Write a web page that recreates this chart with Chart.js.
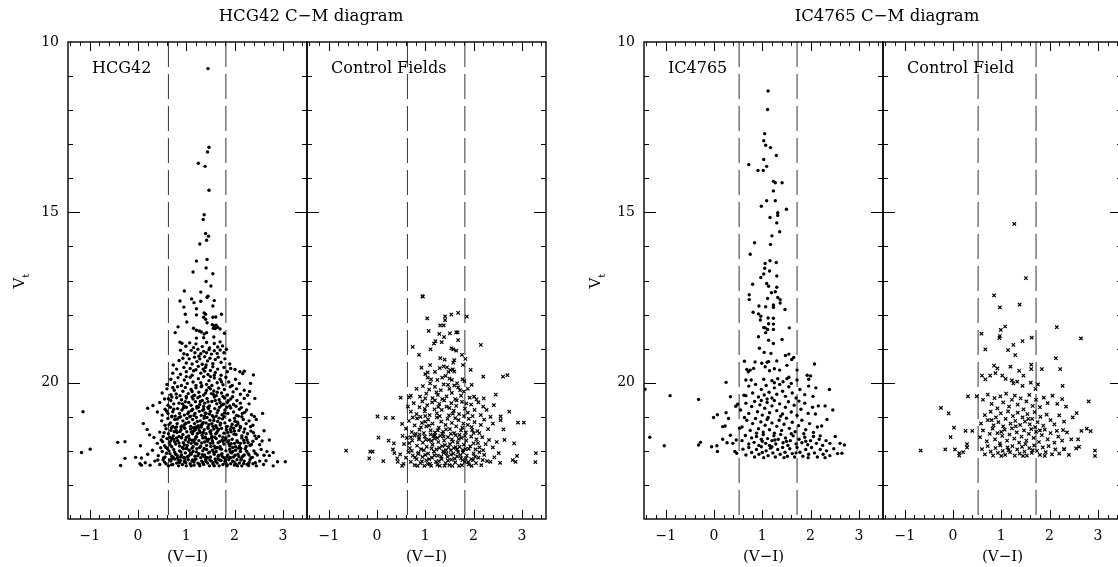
<!DOCTYPE html>
<html>
<head>
<meta charset="utf-8">
<script src="https://cdn.jsdelivr.net/npm/chart.js@4"></script>
<style>
html, body { margin: 0; padding: 0; background: #fff; overflow: hidden; }
canvas.panel { position: absolute; left: 0; top: 0; }
</style>
</head>
<body>
<canvas id="hcgChart" class="panel" width="1130" height="567"></canvas>
<canvas id="ctrl1Chart" class="panel" width="1130" height="567"></canvas>
<canvas id="icChart" class="panel" width="1130" height="567"></canvas>
<canvas id="ctrl2Chart" class="panel" width="1130" height="567"></canvas>
<script>
// tick labels and colour cuts
var xTickLabels = [-1, 0, 1, 2, 3];
var yTickLabels = [10, 15, 20];
var hcgCuts = [0.63, 1.82];
var icCuts = [0.52, 1.72];

// HCG42 galaxy points, [V-I, Vt]
var hcg42Pts = [
[1.45,10.78],[1.47,13.09],[1.44,13.23],[1.25,13.56],[1.39,13.65],[1.47,14.35],[1.37,15.07],[1.35,15.21],[1.40,15.62],[1.46,15.70],[1.42,15.82],[1.28,15.93],[1.21,16.43],[1.43,16.38],[1.41,16.63],[1.14,16.75],[1.55,16.80],[1.41,17.03],[1.51,17.16],[0.96,17.31],[1.30,17.34],[1.45,17.46],[1.43,17.49],[1.11,17.54],[0.87,17.60],[1.30,17.61],[1.58,17.59],[1.16,17.65],[1.55,17.75],[0.95,17.78],[1.21,17.83],[1.37,17.95],[1.40,17.99],[0.98,17.99],[1.21,18.01],[1.73,17.99],[1.36,18.08],[1.55,18.08],[1.61,18.07],[1.40,18.14],[1.01,18.22],[1.43,18.24],[1.54,18.30],[1.58,18.33],[1.62,18.31],[1.56,18.40],[1.60,18.41],[1.65,18.37],[0.83,18.36],[1.15,18.40],[1.70,18.42],[1.21,18.46],[1.27,18.48],[1.31,18.51],[0.77,18.53],[1.42,18.53],[1.79,18.55],[1.37,18.57],[1.21,18.69],[1.36,18.68],[1.57,18.66],[0.87,18.81],[0.91,18.84],[0.99,18.93],[1.07,18.83],[1.15,18.97],[1.20,18.86],[1.33,18.94],[1.42,18.82],[1.48,18.98],[1.58,18.85],[1.65,18.95],[1.70,18.80],[1.75,18.92],
[0.88,19.05],[0.95,19.15],[1.02,19.18],[1.10,19.05],[1.18,19.12],[1.24,19.02],[1.30,19.15],[1.36,19.08],[1.42,19.12],[1.47,19.03],[1.52,19.16],[1.58,19.06],[1.64,19.14],[1.70,19.04],[1.78,19.12],[1.83,19.02],
[0.73,19.48],[0.85,19.35],[0.93,19.28],[1.00,19.42],[1.06,19.30],[1.12,19.45],[1.17,19.25],[1.22,19.38],[1.28,19.30],[1.33,19.46],[1.38,19.24],[1.44,19.36],[1.49,19.28],[1.55,19.44],[1.60,19.32],[1.66,19.25],[1.72,19.40],[1.80,19.30],[1.90,19.45],[1.26,19.22],[1.41,19.48],
[0.72,19.72],[0.80,19.60],[0.88,19.75],[0.95,19.55],[1.00,19.68],[1.08,19.58],[1.12,19.78],[1.20,19.62],[1.25,19.52],[1.30,19.72],[1.35,19.60],[1.40,19.55],[1.45,19.76],[1.50,19.64],[1.55,19.53],[1.60,19.70],[1.65,19.60],[1.72,19.78],[1.78,19.55],[1.85,19.68],[1.92,19.58],[2.01,19.61],[2.11,19.68],[2.17,19.73],[2.20,19.66],[2.39,19.77],[1.15,19.65],[1.38,19.66],[1.58,19.78],
[0.60,20.05],[0.68,19.90],[0.76,20.00],[0.83,19.85],[0.90,20.08],[0.96,19.92],[1.02,20.02],[1.08,19.84],[1.14,19.98],[1.20,20.08],[1.25,19.88],[1.30,20.00],[1.36,19.82],[1.42,20.05],[1.47,19.94],[1.53,20.08],[1.58,19.86],[1.64,20.00],[1.70,19.90],[1.76,20.06],[1.82,19.84],[1.88,19.98],[1.95,20.08],[2.02,19.90],[2.10,20.02],[2.33,20.02],[1.00,19.82],[1.32,20.09],[1.50,19.82],[1.73,19.97],
[0.50,20.30],[0.60,20.18],[0.68,20.35],[0.75,20.22],[0.82,20.12],[0.87,20.38],[0.93,20.25],[0.98,20.14],[1.04,20.32],[1.10,20.20],[1.15,20.38],[1.20,20.15],[1.26,20.28],[1.31,20.12],[1.36,20.36],[1.42,20.22],[1.47,20.14],[1.52,20.32],[1.57,20.24],[1.62,20.38],[1.67,20.16],[1.73,20.30],[1.79,20.20],[1.85,20.36],[1.91,20.12],[1.97,20.27],[2.04,20.18],[2.12,20.34],[2.20,20.22],[2.31,20.26],[0.72,20.14],[1.00,20.40],[1.28,20.40],[1.50,20.18],[1.76,20.40],[1.12,20.26],[1.40,20.30],[1.64,20.28],
[0.31,20.67],[0.45,20.58],[0.55,20.48],[0.62,20.66],[0.68,20.52],[0.74,20.62],[0.80,20.44],[0.85,20.60],[0.90,20.50],[0.95,20.68],[1.00,20.45],[1.05,20.58],[1.10,20.66],[1.14,20.48],[1.19,20.56],[1.24,20.44],[1.28,20.64],[1.33,20.52],[1.38,20.60],[1.43,20.46],[1.48,20.68],[1.53,20.55],[1.58,20.42],[1.63,20.62],[1.68,20.50],[1.73,20.66],[1.79,20.45],[1.85,20.58],[1.92,20.48],[1.98,20.64],[2.05,20.52],[2.12,20.60],[2.20,20.46],[2.30,20.62],[2.42,20.46],[0.70,20.42],[0.98,20.56],[1.22,20.70],[1.45,20.56],[1.70,20.58],[1.90,20.68],[1.12,20.42],[1.36,20.70],[1.60,20.52],
[0.20,20.75],[0.40,20.86],[0.50,20.95],[0.56,20.78],[0.62,20.90],[0.67,20.72],[0.72,20.85],[0.77,20.98],[0.82,20.76],[0.86,20.90],[0.91,20.80],[0.96,20.95],[1.00,20.72],[1.05,20.86],[1.09,20.98],[1.13,20.78],[1.18,20.90],[1.22,20.74],[1.27,20.84],[1.31,20.96],[1.36,20.78],[1.41,20.90],[1.45,20.72],[1.50,20.84],[1.54,20.97],[1.59,20.76],[1.64,20.88],[1.69,20.72],[1.74,20.94],[1.80,20.80],[1.86,20.90],[1.92,20.74],[1.98,20.86],[2.04,20.96],[2.10,20.78],[2.16,20.90],[2.25,20.80],[2.35,20.94],[2.58,20.90],[0.70,20.98],[0.94,20.74],[1.16,20.96],[1.38,20.98],[1.62,20.98],[1.84,20.72],[2.08,20.98],[0.88,21.00],[1.25,20.72],[1.48,20.92],
[0.11,21.20],[0.49,21.12],[0.56,21.25],[0.62,21.05],[0.67,21.18],[0.72,21.28],[0.76,21.08],[0.81,21.20],[0.85,21.02],[0.89,21.30],[0.93,21.12],[0.97,21.22],[1.01,21.05],[1.05,21.16],[1.09,21.28],[1.13,21.08],[1.17,21.20],[1.21,21.02],[1.25,21.26],[1.29,21.12],[1.33,21.22],[1.37,21.04],[1.41,21.18],[1.45,21.30],[1.49,21.10],[1.53,21.20],[1.57,21.02],[1.61,21.26],[1.65,21.14],[1.70,21.24],[1.75,21.06],[1.80,21.18],[1.85,21.28],[1.90,21.10],[1.95,21.22],[2.00,21.04],[2.06,21.16],[2.12,21.28],[2.18,21.08],[2.24,21.20],[2.30,21.12],[2.38,21.25],[2.45,21.08],[0.70,21.00],[0.95,21.30],[1.20,21.30],[1.43,21.02],[1.68,21.04],[1.93,21.30],[2.15,21.00],[0.80,21.30],[1.07,21.00],[1.31,21.30],[1.55,21.28],[1.78,21.00],[2.03,21.26],
[0.19,21.37],[0.24,21.53],[0.45,21.45],[0.52,21.58],[0.58,21.35],[0.63,21.50],[0.68,21.40],[0.73,21.56],[0.77,21.32],[0.81,21.46],[0.85,21.58],[0.89,21.38],[0.93,21.52],[0.97,21.34],[1.01,21.44],[1.05,21.56],[1.09,21.36],[1.13,21.50],[1.17,21.40],[1.21,21.58],[1.25,21.32],[1.29,21.46],[1.33,21.54],[1.37,21.38],[1.41,21.50],[1.45,21.34],[1.49,21.44],[1.53,21.58],[1.57,21.36],[1.61,21.50],[1.65,21.42],[1.69,21.56],[1.73,21.34],[1.78,21.48],[1.83,21.38],[1.88,21.56],[1.93,21.44],[1.98,21.34],[2.03,21.52],[2.09,21.40],[2.15,21.56],[2.21,21.36],[2.27,21.50],[2.34,21.42],[2.42,21.56],[2.50,21.58],[2.61,21.41],[0.66,21.60],[0.90,21.60],[1.15,21.32],[1.39,21.60],[1.63,21.32],[1.86,21.46],[2.12,21.32],[0.75,21.44],[1.00,21.60],[1.27,21.40],[1.51,21.50],[1.76,21.60],[2.00,21.42],[2.24,21.60],[1.10,21.45],[1.35,21.46],[1.59,21.60],
[-0.42,21.75],[-0.27,21.73],[0.05,21.85],[0.33,21.61],[0.40,21.78],[0.48,21.68],[0.55,21.85],[0.60,21.64],[0.65,21.76],[0.70,21.88],[0.74,21.66],[0.78,21.80],[0.82,21.70],[0.86,21.86],[0.90,21.62],[0.94,21.76],[0.98,21.68],[1.02,21.84],[1.06,21.64],[1.10,21.78],[1.14,21.88],[1.18,21.66],[1.22,21.80],[1.26,21.70],[1.30,21.86],[1.34,21.62],[1.38,21.74],[1.42,21.84],[1.46,21.66],[1.50,21.78],[1.54,21.70],[1.58,21.86],[1.62,21.64],[1.66,21.76],[1.70,21.88],[1.74,21.68],[1.78,21.80],[1.82,21.62],[1.86,21.74],[1.90,21.86],[1.95,21.66],[2.00,21.78],[2.05,21.70],[2.10,21.86],[2.15,21.62],[2.20,21.76],[2.26,21.68],[2.32,21.84],[2.38,21.72],[2.45,21.64],[2.52,21.82],[2.72,21.68],[0.68,21.70],[0.92,21.90],[1.16,21.74],[1.40,21.62],[1.64,21.90],[1.88,21.70],[2.12,21.78],[0.80,21.62],[1.04,21.74],[1.28,21.90],[1.52,21.62],[1.76,21.72],[2.02,21.88],[2.28,21.76],[0.58,21.90],[1.20,21.60],[1.44,21.72],[1.96,21.90],
[-1.14,20.85],[-1.17,22.05],[-0.99,21.95],[-0.27,22.22],[-0.05,22.19],[0.07,22.21],[0.20,22.10],[0.30,21.98],[0.42,22.14],[0.50,22.02],[0.56,22.18],[0.61,21.94],[0.66,22.08],[0.70,22.16],[0.74,21.96],[0.78,22.10],[0.82,22.20],[0.86,22.00],[0.90,22.12],[0.94,21.94],[0.98,22.06],[1.02,22.18],[1.06,21.98],[1.10,22.10],[1.14,22.02],[1.18,22.16],[1.22,21.94],[1.26,22.08],[1.30,22.20],[1.34,22.00],[1.38,22.12],[1.42,21.96],[1.46,22.06],[1.50,22.18],[1.54,21.98],[1.58,22.10],[1.62,22.02],[1.66,22.16],[1.70,21.94],[1.74,22.08],[1.78,22.20],[1.82,22.00],[1.86,22.12],[1.90,21.96],[1.94,22.06],[1.98,22.18],[2.02,21.98],[2.07,22.10],[2.12,22.02],[2.17,22.16],[2.22,21.94],[2.28,22.08],[2.34,22.20],[2.40,22.00],[2.47,22.12],[2.55,21.96],[2.67,22.02],[2.80,22.05],[0.64,22.00],[0.88,22.18],[1.12,21.92],[1.36,22.16],[1.60,21.92],[1.84,22.18],[2.08,21.92],[2.30,22.12],[0.76,22.04],[1.00,21.92],[1.24,22.14],[1.48,22.04],[1.72,22.12],[1.96,22.02],[2.20,22.12],[0.96,22.20],[1.44,22.20],[1.92,22.20],
[-0.36,22.43],[0.04,22.38],[0.07,22.42],[0.15,22.35],[0.25,22.42],[0.35,22.30],[0.45,22.40],[0.52,22.26],[0.58,22.38],[0.63,22.44],[0.68,22.30],[0.72,22.40],[0.76,22.24],[0.80,22.36],[0.84,22.44],[0.88,22.28],[0.92,22.40],[0.96,22.32],[1.00,22.44],[1.04,22.26],[1.08,22.38],[1.12,22.30],[1.16,22.42],[1.20,22.24],[1.24,22.36],[1.28,22.44],[1.32,22.30],[1.36,22.40],[1.40,22.26],[1.44,22.36],[1.48,22.44],[1.52,22.30],[1.56,22.40],[1.60,22.24],[1.64,22.36],[1.68,22.44],[1.72,22.28],[1.76,22.40],[1.80,22.32],[1.84,22.44],[1.88,22.26],[1.92,22.38],[1.96,22.30],[2.00,22.42],[2.05,22.26],[2.10,22.36],[2.15,22.44],[2.20,22.30],[2.26,22.40],[2.32,22.26],[2.38,22.38],[2.45,22.44],[2.52,22.30],[2.60,22.40],[2.72,22.14],[2.80,22.44],[2.89,22.32],[3.05,22.32],[0.70,22.23],[0.94,22.19],[1.18,22.25],[1.42,22.21],[1.66,22.24],[1.90,22.19],[2.14,22.23],[0.86,22.34],[1.10,22.44],[1.34,22.34],[1.58,22.44],[1.82,22.36],[2.06,22.44],[2.30,22.34],
[0.63,20.47],[0.79,20.33],[0.97,20.71],[1.17,20.37],[1.34,20.81],[1.56,20.34],[1.77,20.63],[1.96,20.41],[2.14,20.73],[2.27,20.37],[0.59,20.83],[0.81,21.07],[1.03,20.91],[1.23,21.14],[1.39,20.89],[1.57,21.11],[1.79,20.89],[2.01,21.13],[2.21,20.87],[2.41,20.99],
[0.64,21.23],[0.79,21.41],[0.99,21.19],[1.19,21.37],[1.35,21.17],[1.51,21.41],[1.71,21.19],[1.91,21.37],[2.07,21.21],[2.33,21.29],[0.54,21.47],[0.71,21.63],[0.87,21.43],[1.07,21.67],[1.23,21.49],[1.43,21.69],[1.63,21.47],[1.81,21.67],[1.99,21.51],[2.19,21.69],[2.39,21.47],
[0.51,21.73],[0.67,21.83],[0.85,21.77],[1.01,21.93],[1.19,21.79],[1.37,21.93],[1.55,21.77],[1.73,21.95],[1.93,21.79],[2.13,21.93],[2.35,21.81],[2.57,21.71],[0.47,21.91],[0.59,22.07],[0.73,22.19],[0.89,22.03],[1.05,22.15],[1.21,22.03],[1.39,22.19],[1.57,22.05],[1.75,22.17],[1.91,22.03],[2.09,22.17],[2.25,22.01],[2.43,22.07],[2.61,22.13],
[0.41,22.27],[0.55,22.33],[0.69,22.41],[0.83,22.27],[0.99,22.35],[1.13,22.27],[1.27,22.39],[1.41,22.31],[1.55,22.35],[1.69,22.27],[1.85,22.41],[1.99,22.33],[2.13,22.27],[2.29,22.43],[2.43,22.35],[2.65,22.29],
[0.74,20.78],[0.92,20.62],[1.11,20.82],[1.29,20.55],[1.46,20.76],[1.66,20.81],[1.87,20.53],[2.03,20.69],[0.69,21.33],[0.91,21.27],[1.14,21.43],[1.31,21.25],[1.47,21.23],[1.67,21.37],[1.83,21.29],[2.19,21.45],
[0.76,21.73],[0.96,21.83],[1.12,21.69],[1.32,21.77],[1.51,21.87],[1.69,21.73],[1.89,21.81],[2.07,21.75],[2.24,21.87],[0.66,22.27],[0.81,22.13],[0.97,22.27],[1.16,22.33],[1.33,22.11],[1.49,22.27],[1.67,22.13],[1.81,22.27],[2.01,22.13],[2.19,22.37],[2.37,22.19],[0.53,22.21],[1.09,22.07],[1.61,22.31],[2.03,22.39]
];

// HCG42 control fields
var control1Pts = [
[0.94,17.46],[0.95,17.47],[1.04,18.11],[1.41,18.05],[1.41,18.16],[1.54,18.00],[1.68,17.95],[1.86,18.06],[1.07,18.48],[1.31,18.32],[1.38,18.32],[1.29,18.57],[1.51,18.55],[1.64,18.52],[1.67,18.52],[1.21,18.78],[1.18,18.85],[1.34,18.81],[1.39,18.66],[1.68,18.75],[0.74,18.95],[1.11,19.02],[1.54,18.99],[1.58,19.02],[1.64,19.06],[2.15,18.89],[0.87,19.18],[1.31,19.28],[1.40,19.32],[1.60,19.34],[1.58,19.41],[1.83,19.30],[1.76,19.18],[0.92,19.56],[1.10,19.48],[1.78,19.48],[1.94,19.62],[2.20,19.82],[2.61,19.82],[2.70,19.78],
[1.30,19.57],[1.38,19.52],[1.45,19.55],[1.52,19.63],[1.57,19.61],[1.60,19.67],[1.48,19.68],[1.00,19.75],[1.05,19.70],[1.20,19.68],[1.12,19.90],[1.05,19.85],[1.25,19.92],[1.35,19.85],[1.42,19.80],[1.50,19.88],[1.55,19.92],[1.66,20.02],[1.77,19.90],[1.81,19.95],[1.88,20.18],[1.96,20.06],
[0.82,20.18],[0.70,20.38],[0.49,20.44],[0.67,20.43],[0.89,20.41],[2.01,20.41],[2.06,20.49],[2.21,20.46],[2.46,20.35],[2.42,20.66],[0.64,20.70],[2.20,20.70],[2.27,20.80],[2.35,21.00],[2.56,20.99],[2.74,20.85],
[0.01,20.99],[0.18,21.03],[0.33,21.03],[0.52,21.21],[2.56,21.10],[2.92,21.17],[3.04,21.17],[2.62,21.37],[0.03,21.61],[0.24,21.70],[0.35,21.78],[0.53,21.56],[2.64,21.68],[2.84,21.78],[-0.64,21.99],[-0.14,22.02],[-0.09,22.02],[-0.16,22.22],[0.13,22.30],[0.33,21.96],[0.36,22.07],[0.42,22.22],[0.43,22.32],[0.52,22.44],[2.90,22.15],[2.81,22.27],[2.87,22.32],[3.29,22.07],[3.28,22.33],[2.52,22.07],[2.43,22.19],[2.35,22.32],[2.55,22.35],
[0.95,20.10],[1.02,20.32],[1.08,20.20],[1.15,20.45],[1.20,20.12],[1.26,20.36],[1.32,20.22],[1.38,20.05],[1.44,20.40],[1.50,20.18],[1.55,20.30],[1.62,20.48],[1.68,20.14],[1.74,20.38],[1.80,20.26],[1.92,20.44],[1.10,20.02],[1.35,20.48],[1.60,20.08],[1.00,20.46],[1.23,20.28],[1.47,20.06],[1.72,20.22],
[0.70,20.85],[0.76,20.60],[0.82,20.92],[0.88,20.72],[0.94,20.55],[0.99,20.84],[1.04,20.66],[1.09,20.95],[1.14,20.58],[1.19,20.78],[1.24,20.90],[1.29,20.62],[1.34,20.80],[1.39,20.52],[1.44,20.70],[1.49,20.96],[1.54,20.60],[1.59,20.82],[1.64,20.68],[1.70,20.92],[1.76,20.56],[1.82,20.76],[1.88,20.88],[1.95,20.64],[2.02,20.80],[2.10,20.58],[2.15,20.95],[0.90,21.00],[1.20,20.52],[1.50,20.74],[1.80,20.98],[1.00,20.98],[1.30,20.98],[1.65,20.52],[1.98,20.98],
[0.60,21.35],[0.66,21.12],[0.72,21.45],[0.78,21.25],[0.83,21.05],[0.88,21.38],[0.93,21.18],[0.97,21.48],[1.02,21.28],[1.06,21.08],[1.11,21.40],[1.15,21.20],[1.20,21.46],[1.24,21.02],[1.28,21.32],[1.33,21.14],[1.37,21.44],[1.42,21.24],[1.46,21.06],[1.51,21.36],[1.55,21.18],[1.60,21.48],[1.64,21.28],[1.69,21.10],[1.74,21.40],[1.79,21.20],[1.84,21.46],[1.90,21.06],[1.96,21.30],[2.02,21.16],[2.08,21.42],[2.15,21.24],[2.22,21.08],[2.30,21.36],[2.40,21.20],[0.80,21.50],[1.08,21.26],[1.35,21.50],[1.62,21.04],[1.88,21.24],[2.12,21.48],[0.74,21.02],[1.00,21.14],[1.26,21.40],[1.53,21.50],[1.77,21.32],[2.00,21.48],
[0.56,21.80],[0.62,21.62],[0.68,21.92],[0.73,21.70],[0.78,21.55],[0.83,21.85],[0.87,21.66],[0.91,21.95],[0.95,21.76],[0.99,21.58],[1.03,21.88],[1.07,21.68],[1.11,21.52],[1.15,21.82],[1.19,21.64],[1.23,21.96],[1.27,21.74],[1.31,21.56],[1.35,21.86],[1.39,21.70],[1.43,21.98],[1.47,21.60],[1.51,21.80],[1.55,21.66],[1.59,21.92],[1.63,21.54],[1.67,21.76],[1.71,21.88],[1.75,21.62],[1.80,21.82],[1.85,21.70],[1.90,21.94],[1.95,21.58],[2.00,21.78],[2.06,21.66],[2.12,21.90],[2.18,21.60],[2.25,21.80],[2.32,21.68],[2.40,21.90],[2.48,21.74],[0.88,21.52],[1.20,21.54],[1.48,21.90],[1.78,21.98],[2.04,21.96],[2.20,21.98],[0.70,21.60],[0.97,21.98],[1.25,21.62],[1.53,21.98],[1.82,21.56],[1.38,21.58],[1.66,21.96],
[0.48,22.10],[0.55,22.38],[0.60,22.20],[0.65,22.04],[0.70,22.32],[0.74,22.14],[0.78,22.42],[0.82,22.24],[0.86,22.06],[0.90,22.36],[0.94,22.18],[0.98,22.44],[1.02,22.28],[1.06,22.08],[1.10,22.38],[1.14,22.20],[1.18,22.02],[1.22,22.32],[1.26,22.14],[1.30,22.44],[1.34,22.24],[1.38,22.06],[1.42,22.36],[1.46,22.18],[1.50,22.42],[1.54,22.26],[1.58,22.08],[1.62,22.34],[1.66,22.16],[1.70,22.44],[1.74,22.22],[1.78,22.04],[1.82,22.32],[1.86,22.14],[1.90,22.40],[1.95,22.24],[2.00,22.08],[2.05,22.36],[2.10,22.20],[2.16,22.42],[2.22,22.12],[2.28,22.30],[0.84,22.44],[1.12,22.44],[1.40,22.44],[1.68,22.04],[1.96,22.44],[1.00,22.12],[1.28,22.30],[1.56,22.44],[1.84,22.22],[2.12,22.04],[0.72,22.00],[1.08,22.24],[1.44,22.08],[1.76,22.42],
[0.87,21.61],[1.13,21.71],[1.41,21.83],[1.69,21.65],[1.93,21.87],[0.93,22.31],[1.19,22.13],[1.47,22.29],[1.73,22.13],[1.99,22.27],[0.79,22.19],[1.05,22.39],[1.33,22.17],[1.61,22.23],[1.89,22.33],[2.19,22.27],[0.67,21.77],[1.01,21.67],[1.29,21.91],[1.57,21.73],[1.83,21.95],[2.09,21.77],[0.91,21.31],[1.17,21.57],[1.43,21.37],[1.71,21.53],[1.97,21.39],[0.99,20.77],[1.27,20.71],[1.57,20.91],[1.85,20.61],[1.13,21.93],[1.37,22.01],[1.63,21.89],[0.85,22.09],[1.25,22.41],[1.53,22.11],[1.77,22.27],[2.03,22.17]
];

// IC4765 galaxy points
var ic4765Pts = [
[1.12,11.44],[1.11,11.98],[1.05,12.69],[1.03,12.90],[1.07,13.03],[1.17,13.10],[1.29,13.33],[0.72,13.60],[1.03,13.45],[1.09,13.65],[0.91,13.77],[1.02,13.77],[1.23,14.09],[1.27,14.13],[1.41,14.13],[1.23,14.37],[1.09,14.66],[1.27,14.66],[0.98,14.82],[1.50,14.91],[1.32,15.01],[1.32,15.09],[1.16,15.15],[1.30,15.31],[1.36,15.57],[1.20,15.69],[0.84,15.89],[1.17,15.94],[0.75,16.23],[1.16,16.42],[1.06,16.50],[1.29,16.47],[1.05,16.64],[1.15,16.72],[0.97,16.91],[1.03,16.81],[1.30,16.87],
[0.80,17.11],[1.09,17.09],[1.13,17.17],[1.30,17.20],[1.27,17.33],[1.19,17.36],[0.73,17.42],[0.73,17.56],[1.11,17.53],[1.32,17.50],[1.37,17.56],[1.37,17.66],[0.93,17.75],[1.07,17.77],[1.23,17.72],[1.23,17.79],[1.47,17.85],[0.81,17.93],[0.92,17.98],[0.97,18.05],[1.12,18.10],[1.23,18.11],[0.96,18.16],[1.13,18.27],[1.23,18.28],[1.03,18.38],[1.06,18.39],[1.11,18.44],[1.23,18.44],[1.56,18.39],[0.92,18.65],[1.07,18.53],[1.13,18.75],[1.23,18.85],[1.41,18.73],[0.94,18.99],[1.04,19.11],[1.18,19.14],[1.48,19.20],[1.55,19.16],[1.65,19.26],[1.61,19.32],[1.30,19.36],[0.63,19.37],[0.85,19.39],[0.99,19.43],[1.10,19.40],[1.13,19.38],[2.08,19.45],[0.68,19.61],[0.75,19.63],[0.82,19.58],[0.71,19.68],[1.06,19.53],[1.15,19.65],[1.25,19.59],[1.36,19.63],[1.51,19.49],[1.72,19.63],[1.93,19.78],[2.00,19.80],[1.96,19.90],[0.25,19.99],[0.66,19.92],[0.77,19.92],[1.03,19.90],[1.20,19.94],[1.25,20.00],[1.32,19.88],[1.43,19.97],[1.51,19.88],[1.55,19.84],[1.72,19.92],[2.11,20.15],[2.39,20.20],
[-1.43,20.19],[-0.91,20.38],[-0.32,20.49],[0.34,20.41],[0.49,20.63],[0.45,20.69],[0.62,20.37],[2.46,20.80],[2.30,20.68],[2.16,20.68],[-0.01,21.02],[0.07,20.94],[0.25,20.88],[0.30,21.05],[0.23,21.27],[0.18,21.29],[0.53,21.34],[0.63,21.02],[2.34,21.08],[2.23,21.27],[-1.33,21.60],[-1.03,21.85],[-0.32,21.83],[-0.28,21.75],[-0.05,21.88],[0.06,21.85],[0.07,22.02],[0.18,21.66],[0.34,21.54],[0.27,21.76],[0.39,21.78],[0.46,21.68],
[0.72,20.10],[0.80,20.30],[0.86,20.05],[0.92,20.42],[0.98,20.20],[1.04,20.36],[1.08,20.08],[1.14,20.28],[1.20,20.45],[1.25,20.15],[1.30,20.34],[1.36,20.05],[1.42,20.25],[1.48,20.40],[1.55,20.12],[1.62,20.30],[1.70,20.45],[1.78,20.20],[1.88,20.35],[1.96,20.10],[2.05,20.40],[0.66,20.38],[1.10,20.48],[1.60,20.02],
[0.55,20.80],[0.66,20.60],[0.72,20.90],[0.78,20.70],[0.84,20.55],[0.90,20.85],[0.95,20.65],[1.00,20.95],[1.05,20.75],[1.10,20.58],[1.15,20.88],[1.20,20.68],[1.25,20.52],[1.30,20.82],[1.36,20.62],[1.42,20.92],[1.48,20.72],[1.54,20.56],[1.60,20.86],[1.66,20.66],[1.72,20.96],[1.80,20.78],[1.88,20.60],[1.95,20.90],[2.04,20.72],[2.10,20.92],[0.98,20.52],[1.38,20.98],[1.76,20.54],
[0.58,21.30],[0.68,21.10],[0.75,21.40],[0.80,21.20],[0.86,21.05],[0.92,21.35],[0.97,21.15],[1.02,21.45],[1.06,21.25],[1.10,21.08],[1.15,21.38],[1.20,21.18],[1.25,21.48],[1.30,21.28],[1.35,21.10],[1.40,21.40],[1.45,21.22],[1.50,21.04],[1.56,21.34],[1.62,21.16],[1.68,21.44],[1.75,21.26],[1.82,21.10],[1.90,21.38],[1.98,21.20],[2.06,21.46],[2.14,21.30],[0.88,21.48],[1.12,21.02],[1.60,21.50],[1.86,21.50],
[0.58,21.70],[0.65,21.55],[0.72,21.80],[0.78,21.62],[0.83,21.75],[0.88,21.58],[0.93,21.84],[0.98,21.66],[1.02,21.52],[1.07,21.78],[1.11,21.64],[1.15,21.84],[1.20,21.70],[1.24,21.56],[1.28,21.80],[1.33,21.66],[1.38,21.52],[1.43,21.76],[1.48,21.62],[1.53,21.84],[1.58,21.70],[1.64,21.56],[1.70,21.80],[1.76,21.66],[1.82,21.76],[1.88,21.60],[1.94,21.82],[2.00,21.70],[2.06,21.58],[2.12,21.78],[2.18,21.66],[2.25,21.84],[2.32,21.70],[2.40,21.78],[2.51,21.58],[2.61,21.78],[2.70,21.83],[1.00,21.72],[1.26,21.68],[1.50,21.72],[1.90,21.72],[2.20,21.56],
[0.43,22.02],[0.47,22.07],[0.60,21.95],[0.66,22.12],[0.72,21.90],[0.78,22.05],[0.84,22.18],[0.88,21.96],[0.93,22.10],[0.98,21.88],[1.03,22.20],[1.08,22.00],[1.12,22.14],[1.17,21.92],[1.22,22.06],[1.27,22.18],[1.32,21.96],[1.37,22.10],[1.42,21.90],[1.47,22.04],[1.52,22.16],[1.57,21.94],[1.62,22.08],[1.67,22.18],[1.72,21.90],[1.78,22.04],[1.84,22.16],[1.90,21.96],[1.96,22.10],[2.02,21.90],[2.08,22.06],[2.14,22.18],[2.20,21.96],[2.26,22.10],[2.33,22.00],[2.40,22.14],[2.48,21.94],[2.56,22.08],[2.65,22.07],[1.00,22.05],[1.45,22.20],[1.95,22.20],[1.20,21.88],[1.70,22.06],[2.30,22.20]
];

// IC4765 control field
var control2Pts = [
[1.27,15.34],[1.51,16.93],[0.85,17.44],[0.97,17.79],[1.38,17.71],[1.08,18.35],[0.99,18.45],[2.15,18.37],[2.65,18.70],[0.59,18.56],[0.97,18.63],[0.96,18.69],[1.44,18.78],[1.63,18.68],[1.25,18.89],[1.14,19.04],[0.67,19.02],[1.29,19.19],[2.13,19.28],[2.22,19.60],[1.84,19.60],[0.85,19.50],[0.92,19.58],[0.88,19.72],[1.19,19.53],[1.37,19.65],[1.46,19.79],[1.62,19.47],[1.62,19.60],[0.60,19.79],[0.67,19.90],[0.77,19.79],[1.02,19.79],[1.09,19.89],[1.22,19.93],[1.25,20.02],[1.33,19.97],[1.44,20.09],[1.61,20.00],[1.76,20.05],[2.27,20.09],[1.71,20.18],
[0.31,20.40],[0.49,20.40],[-0.25,20.74],[-0.09,20.90],[2.81,20.55],[2.56,20.89],[2.48,21.02],[2.77,21.35],[2.85,21.42],[0.02,21.32],[-0.05,21.60],[0.26,21.41],[0.40,21.41],[0.29,21.80],[0.29,21.90],[-0.67,21.99],[-0.16,21.96],[0.04,21.96],[0.13,22.07],[0.13,22.14],[0.21,22.04],[2.94,21.99],[2.94,22.15],[2.59,21.66],[2.61,21.88],[2.55,21.93],[2.30,21.95],[2.66,21.41],[2.28,21.39],[2.15,21.41],
[0.62,20.50],[0.72,20.35],[0.80,20.62],[0.86,20.45],[0.92,20.75],[0.98,20.40],[1.04,20.58],[1.10,20.32],[1.16,20.70],[1.22,20.50],[1.28,20.38],[1.34,20.64],[1.40,20.46],[1.46,20.78],[1.52,20.55],[1.58,20.36],[1.65,20.68],[1.72,20.50],[1.80,20.72],[1.88,20.44],[1.96,20.60],[2.06,20.38],[2.16,20.62],[2.26,20.48],[2.34,20.70],
[0.58,21.20],[0.66,20.95],[0.72,21.10],[0.78,20.85],[0.84,21.25],[0.89,21.02],[0.94,21.16],[0.99,20.90],[1.04,21.28],[1.09,21.06],[1.14,20.84],[1.19,21.20],[1.24,20.98],[1.29,21.12],[1.34,20.88],[1.39,21.24],[1.44,21.02],[1.49,21.14],[1.54,20.92],[1.59,21.22],[1.64,21.06],[1.69,20.86],[1.75,21.16],[1.81,21.00],[1.87,21.26],[1.94,20.94],[2.02,21.10],[2.10,21.22],[2.20,20.96],[2.30,21.14],[0.80,21.10],[1.30,21.28],[1.56,21.06],[1.70,21.30],
[0.56,21.60],[0.62,21.40],[0.70,21.72],[0.76,21.50],[0.82,21.35],[0.87,21.66],[0.92,21.48],[0.97,21.78],[1.02,21.56],[1.07,21.38],[1.12,21.70],[1.17,21.52],[1.22,21.34],[1.27,21.64],[1.32,21.46],[1.37,21.76],[1.42,21.58],[1.47,21.40],[1.52,21.70],[1.57,21.50],[1.62,21.36],[1.67,21.62],[1.72,21.44],[1.78,21.74],[1.84,21.54],[1.90,21.38],[1.96,21.66],[2.02,21.48],[2.10,21.76],[2.18,21.58],[2.26,21.70],[2.36,21.46],[2.45,21.66],[1.00,21.44],[1.50,21.80],[1.80,21.40],
[0.60,21.95],[0.66,22.10],[0.72,21.86],[0.78,22.02],[0.83,22.14],[0.88,21.92],[0.93,22.06],[0.98,21.84],[1.03,22.00],[1.08,22.12],[1.13,21.90],[1.18,22.04],[1.23,21.86],[1.28,22.14],[1.33,21.96],[1.38,22.08],[1.43,21.88],[1.48,22.02],[1.53,22.14],[1.58,21.92],[1.63,22.06],[1.68,21.84],[1.74,22.00],[1.80,22.12],[1.86,21.90],[1.92,22.04],[1.98,21.86],[2.05,22.10],[2.12,21.96],[2.20,22.08],[2.30,21.95],[2.40,22.12],[1.00,22.15],[1.45,22.15],[1.90,22.15],[1.15,21.98],[1.65,21.98]
];

var FONT = '"DejaVu Serif", "Liberation Serif", serif';
var PAGE_W = 1130, PAGE_H = 567;
var PLOT_TOP = 42, PLOT_BOTTOM = 519;

function minusSign(v) {
    return v < 0 ? '\u2212' + Math.abs(v) : String(v);
}

// frame, inward ticks and all the text around a panel
var panelDecor = {
    id: 'panelDecor',
    afterDatasetsDraw: function (chart, args, opts) {
        var ctx = chart.ctx, a = chart.chartArea;
        var xs = chart.scales.x, ys = chart.scales.y;
        ctx.save();
        ctx.strokeStyle = '#000';
        ctx.lineWidth = 1;
        ctx.beginPath();
        for (var i = -7; i <= 17; i++) {
            var px = Math.round(xs.getPixelForValue(i / 5)) + 0.5;
            if (px < a.left || px > a.right) continue;
            var len = (i % 5 === 0) ? 9 : 4;
            ctx.moveTo(px, a.bottom); ctx.lineTo(px, a.bottom - len);
            ctx.moveTo(px, a.top); ctx.lineTo(px, a.top + len);
        }
        for (var v = 11; v <= 23; v++) {
            var py = Math.round(ys.getPixelForValue(v)) + 0.5;
            var l = (v % 5 === 0) ? 12 : 5;
            ctx.moveTo(a.left, py); ctx.lineTo(a.left + l, py);
            ctx.moveTo(a.right, py); ctx.lineTo(a.right - l, py);
        }
        ctx.stroke();
        ctx.lineWidth = 1.4;
        ctx.strokeRect(a.left, a.top, a.right - a.left, a.bottom - a.top);

        ctx.fillStyle = '#000';
        ctx.font = '16px ' + FONT;
        ctx.textAlign = 'left';
        ctx.textBaseline = 'middle';
        ctx.fillText(opts.label, a.left + 24, a.top + 27);

        ctx.font = '14px ' + FONT;
        ctx.textAlign = 'center';
        xTickLabels.forEach(function (t) {
            ctx.fillText(minusSign(t), xs.getPixelForValue(t), a.bottom + 17);
        });
        ctx.font = '15px ' + FONT;
        ctx.fillText('(V\u2212I)', (a.left + a.right) / 2, a.bottom + 38);

        if (opts.title) {
            ctx.textAlign = 'right';
            ctx.font = '14px ' + FONT;
            yTickLabels.forEach(function (t) {
                ctx.fillText(String(t), a.left - 9, ys.getPixelForValue(t));
            });
            // V with subscript t, rotated
            ctx.save();
            ctx.translate(a.left - 48, (a.top + a.bottom) / 2 + 8);
            ctx.rotate(-Math.PI / 2);
            ctx.textAlign = 'left';
            ctx.font = '15px ' + FONT;
            ctx.fillText('V', 0, 0);
            var w = ctx.measureText('V').width;
            ctx.font = '10px ' + FONT;
            ctx.fillText('t', w, 6);
            ctx.restore();

            ctx.textAlign = 'center';
            ctx.font = '16.5px ' + FONT;
            ctx.fillText(opts.title, a.right + 4, 17);
        }
        ctx.restore();
    }
};

var dotStyle = { pointStyle: 'circle', pointRadius: 1.7, pointBackgroundColor: '#000', pointBorderWidth: 0 };
var crossStyle = { pointStyle: 'crossRot', pointRadius: 2.4, pointBorderColor: '#000', pointBorderWidth: 1.2 };

function createPanel(id, left, right, pts, cuts, marker, decor) {
    var ctx = document.getElementById(id).getContext('2d');
    var pointSet = Object.assign({ data: pts.map(function (p) { return { x: p[0], y: p[1] }; }), order: 1 }, marker);
    var cutSets = cuts.map(function (c) {
        return {
            data: [{ x: c, y: 10 }, { x: c, y: 24 }],
            showLine: true,
            pointRadius: 0,
            borderColor: '#333',
            borderWidth: 1,
            borderDash: [25, 7],
            order: 2
        };
    });
    return new Chart(ctx, {
        type: 'scatter',
        data: { datasets: [pointSet].concat(cutSets) },
        options: {
            responsive: false,
            animation: false,
            events: [],
            layout: { padding: { left: left, right: PAGE_W - right, top: PLOT_TOP, bottom: PAGE_H - PLOT_BOTTOM } },
            scales: {
                x: { type: 'linear', min: -1.45, max: 3.5, display: false },
                y: { type: 'linear', min: 10, max: 24, reverse: true, display: false }
            },
            plugins: {
                legend: { display: false },
                tooltip: { enabled: false },
                panelDecor: decor
            }
        },
        plugins: [panelDecor]
    });
}

createPanel('hcgChart', 68, 307, hcg42Pts, hcgCuts, dotStyle, { label: 'HCG42', title: 'HCG42 C\u2212M diagram' });
createPanel('ctrl1Chart', 307, 546, control1Pts, hcgCuts, crossStyle, { label: 'Control Fields', title: null });
createPanel('icChart', 644, 883, ic4765Pts, icCuts, dotStyle, { label: 'IC4765', title: 'IC4765 C\u2212M diagram' });
createPanel('ctrl2Chart', 883, 1122, control2Pts, icCuts, crossStyle, { label: 'Control Field', title: null });
</script>
</body>
</html>
